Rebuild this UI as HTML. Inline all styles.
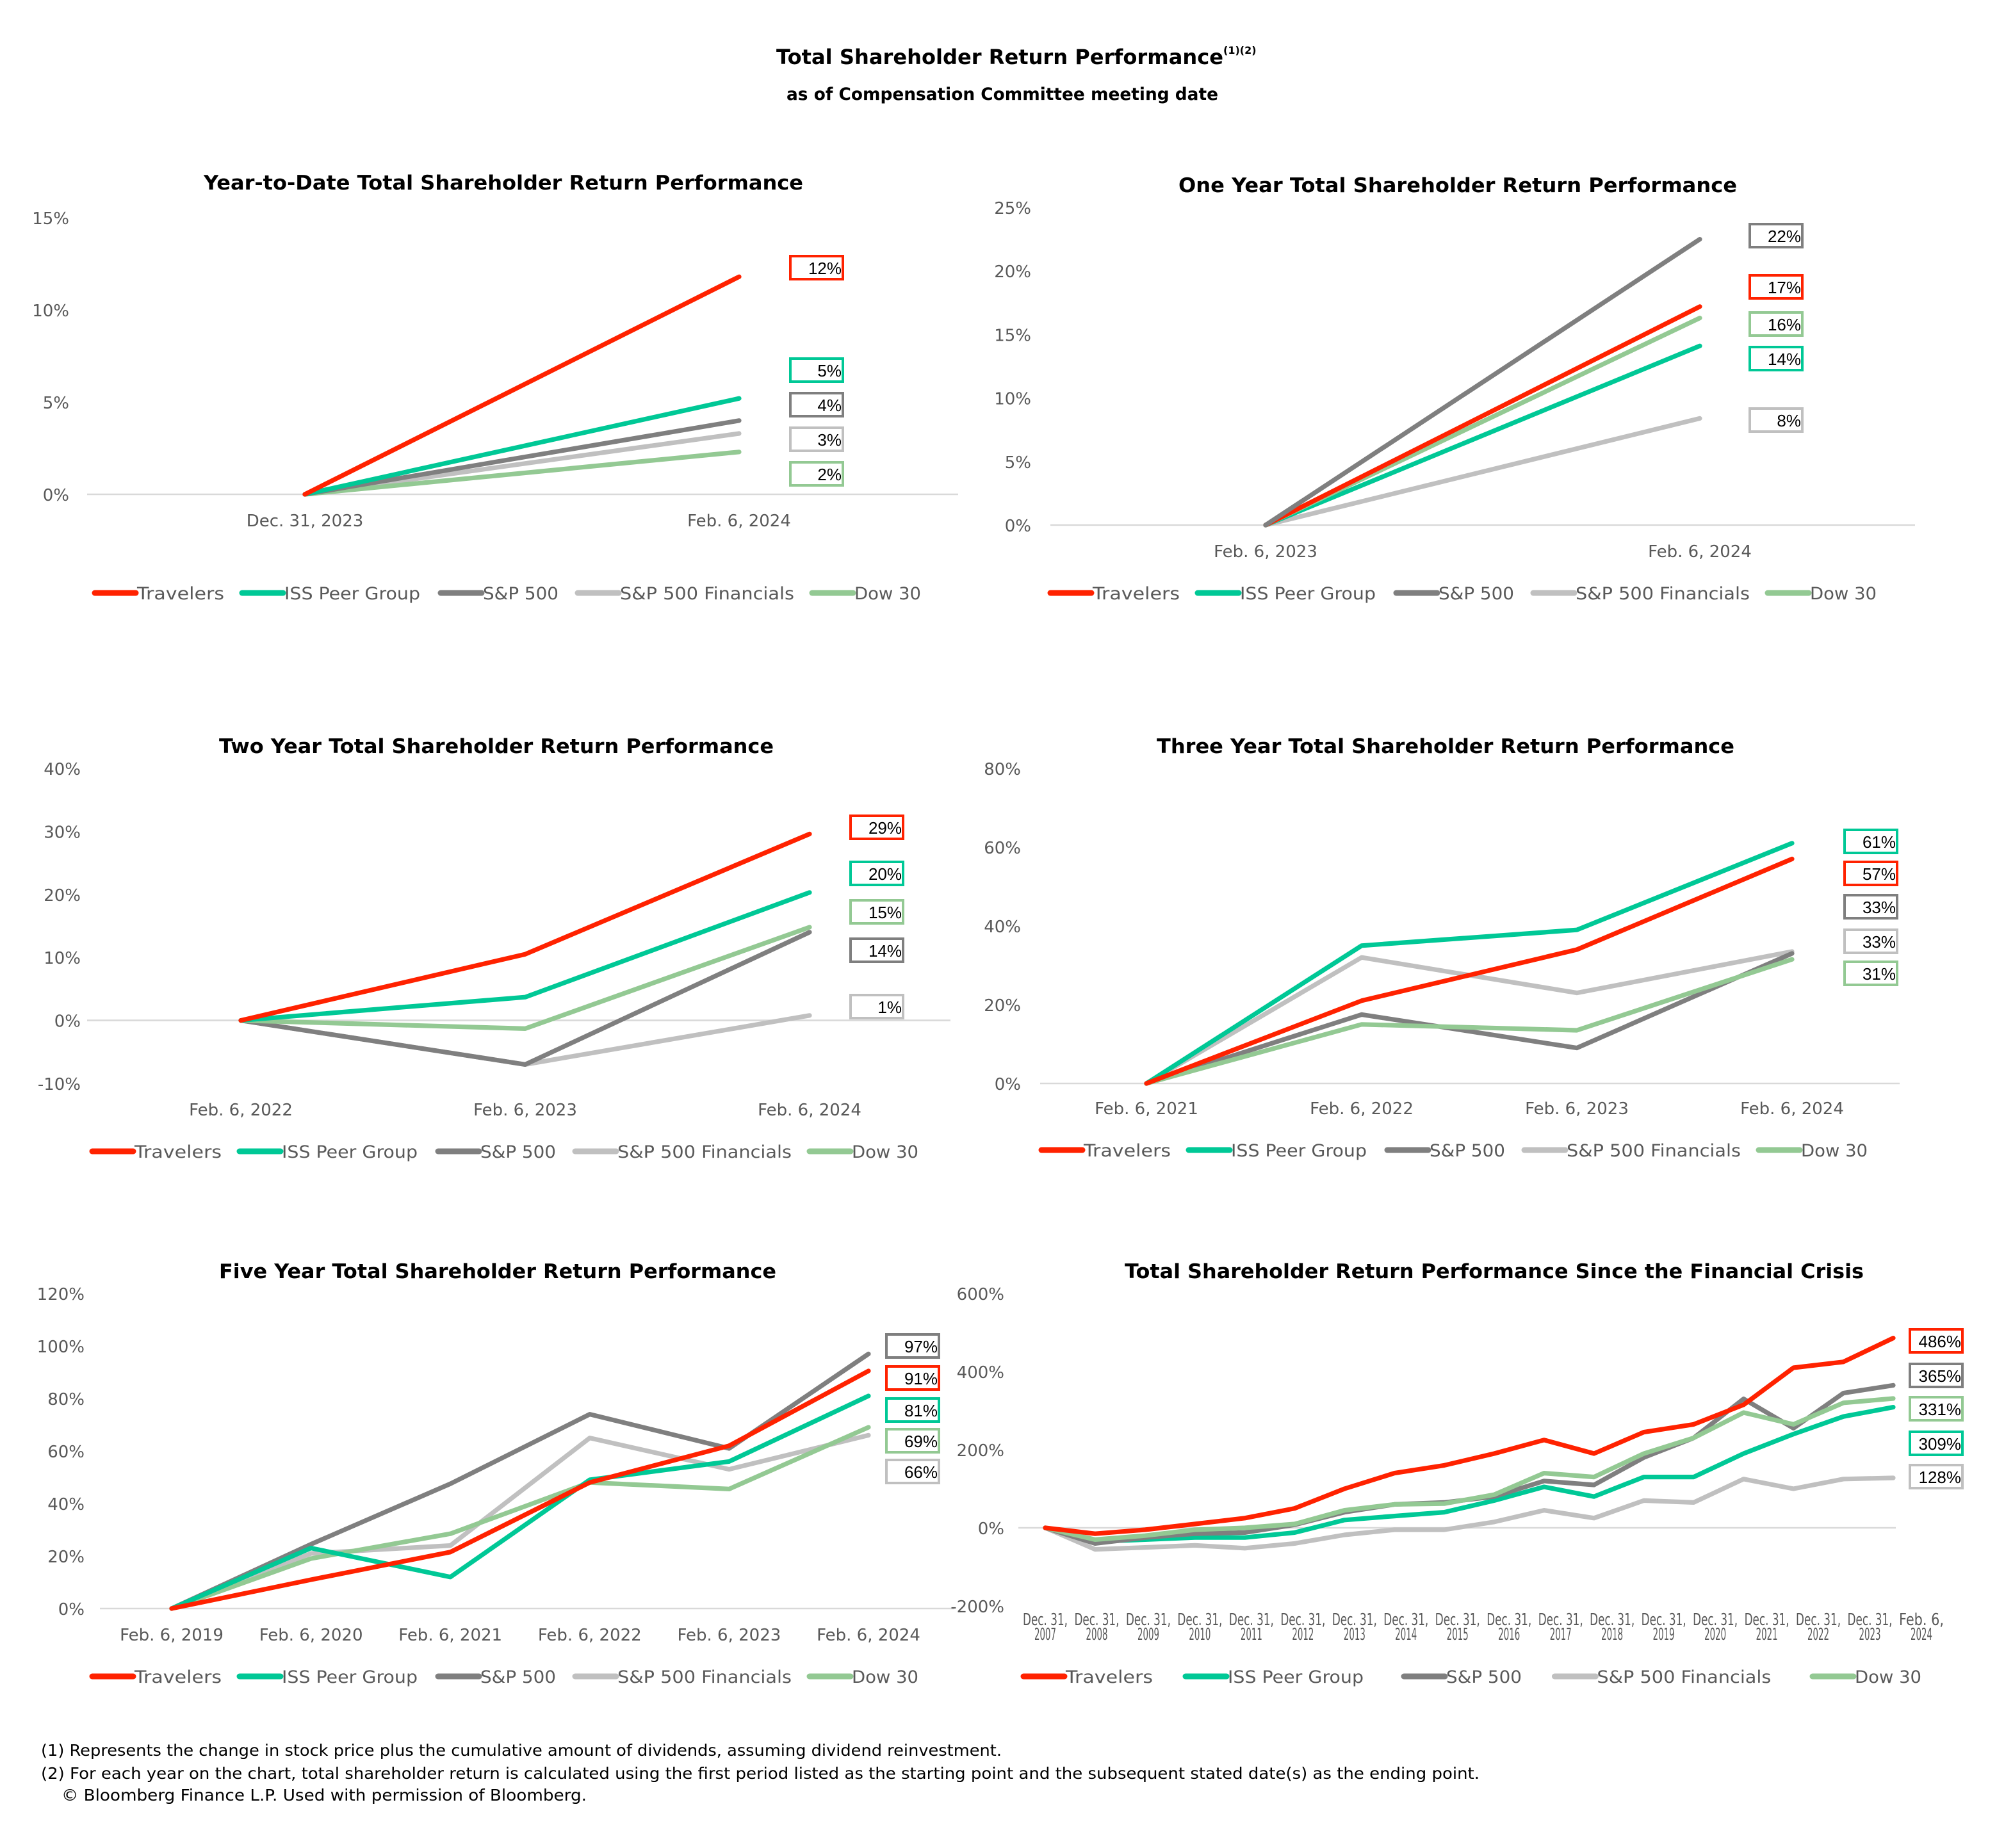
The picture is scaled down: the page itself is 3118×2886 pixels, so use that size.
<!DOCTYPE html>
<html><head><meta charset="utf-8">
<style>
html,body{margin:0;padding:0;background:#fff;}
svg{display:block;}
text{font-family:"DejaVu Sans","Liberation Sans",sans-serif;}
.t{font-family:"DejaVu Sans","Liberation Sans",sans-serif;font-weight:bold;fill:#000;}
.ax{fill:#595959;font-size:13px;}
.lg{fill:#595959;font-size:13.5px;}
.bx{fill:#000;font-size:13px;font-family:"Liberation Sans",sans-serif;}
.fn{font-family:"DejaVu Sans","Liberation Sans",sans-serif;font-size:12.5px;fill:#000;}
</style></head>
<body>
<svg id="root" width="3118" height="2886" viewBox="0 0 1559 1443" xmlns="http://www.w3.org/2000/svg">
<text class="t" x="606" y="50" font-size="16"><tspan textLength="349" lengthAdjust="spacingAndGlyphs">Total Shareholder Return Performance</tspan><tspan font-size="8" dy="-8">(1)(2)</tspan></text>
<text class="t" x="614" y="78" font-size="13.5" textLength="337" lengthAdjust="spacingAndGlyphs">as of Compensation Committee meeting date</text>
<g id="charts"></g>
<text class="fn" x="32" y="1371" textLength="750" lengthAdjust="spacingAndGlyphs">(1) Represents the change in stock price plus the cumulative amount of dividends, assuming dividend reinvestment.</text>
<text class="fn" x="32" y="1389" textLength="1123" lengthAdjust="spacingAndGlyphs">(2) For each year on the chart, total shareholder return is calculated using the first period listed as the starting point and the subsequent stated date(s) as the ending point.</text>
<text class="fn" x="48" y="1406" textLength="410" lengthAdjust="spacingAndGlyphs">© Bloomberg Finance L.P. Used with permission of Bloomberg.</text>
</svg>
<script>
// ---- shared data ----
const seriesNames = ["Travelers","ISS Peer Group","S&P 500","S&P 500 Financials","Dow 30"];
const seriesColors = ["#ff2200","#00c896","#7f7f7f","#c0c0c0","#93c993"];

// ---- Chart 1: YTD ----
const ytdCategories = ["Dec. 31, 2023","Feb. 6, 2024"];
const ytdTicks = [0,5,10,15];
const ytdTravelers = [0,11.8];
const ytdIss = [0,5.2];
const ytdSp500 = [0,4.0];
const ytdFin = [0,3.3];
const ytdDow = [0,2.3];
const ytdLabels = ["12%","5%","4%","3%","2%"];

// ---- Chart 2: One year ----
const oneCategories = ["Feb. 6, 2023","Feb. 6, 2024"];
const oneTicks = [0,5,10,15,20,25];
const oneTravelers = [0,17.2];
const oneIss = [0,14.1];
const oneSp500 = [0,22.5];
const oneFin = [0,8.4];
const oneDow = [0,16.3];
const oneLabels = ["17%","14%","22%","8%","16%"];

// ---- Chart 3: Two year ----
const twoCategories = ["Feb. 6, 2022","Feb. 6, 2023","Feb. 6, 2024"];
const twoTicks = [-10,0,10,20,30,40];
const twoTravelers = [0,10.5,29.6];
const twoIss = [0,3.7,20.3];
const twoSp500 = [0,-7,14];
const twoFin = [0,-7,0.8];
const twoDow = [0,-1.3,14.8];
const twoLabels = ["29%","20%","14%","1%","15%"];

// ---- Chart 4: Three year ----
const threeCategories = ["Feb. 6, 2021","Feb. 6, 2022","Feb. 6, 2023","Feb. 6, 2024"];
const threeTicks = [0,20,40,60,80];
const threeTravelers = [0,21,34,57];
const threeIss = [0,35,39,61];
const threeSp500 = [0,17.5,9,33];
const threeFin = [0,32,23,33.5];
const threeDow = [0,15,13.5,31.5];
const threeLabels = ["57%","61%","33%","33%","31%"];

// ---- Chart 5: Five year ----
const fiveCategories = ["Feb. 6, 2019","Feb. 6, 2020","Feb. 6, 2021","Feb. 6, 2022","Feb. 6, 2023","Feb. 6, 2024"];
const fiveTicks = [0,20,40,60,80,100,120];
const fiveTravelers = [0,11,21.5,48,62,90.5];
const fiveIss = [0,23,12,49,56,81];
const fiveSp500 = [0,24.5,47.5,74,61,97];
const fiveFin = [0,21,24,65,53,66];
const fiveDow = [0,19,28.5,48,45.5,69];
const fiveLabels = ["91%","81%","97%","66%","69%"];

// ---- Chart 6: Since financial crisis ----
const crisisCategories = ["Dec. 31,|2007","Dec. 31,|2008","Dec. 31,|2009","Dec. 31,|2010","Dec. 31,|2011","Dec. 31,|2012","Dec. 31,|2013","Dec. 31,|2014","Dec. 31,|2015","Dec. 31,|2016","Dec. 31,|2017","Dec. 31,|2018","Dec. 31,|2019","Dec. 31,|2020","Dec. 31,|2021","Dec. 31,|2022","Dec. 31,|2023","Feb. 6,|2024"];
const crisisTicks = [-200,0,200,400,600];
const crisisTravelers = [0,-15,-5,10,25,50,100,140,160,190,225,190,245,265,315,410,425,486];
const crisisIss = [0,-35,-30,-25,-25,-12,20,30,40,70,105,80,130,130,190,240,285,309];
const crisisSp500 = [0,-40,-25,-15,-12,8,40,60,65,80,120,110,180,230,330,255,345,365];
const crisisFin = [0,-55,-50,-45,-52,-40,-18,-5,-5,15,45,25,70,65,125,100,125,128];
const crisisDow = [0,-30,-20,-5,0,10,45,60,62,85,140,130,190,230,295,265,320,331];
const crisisLabels = ["486%","309%","365%","128%","331%"];

const NS="http://www.w3.org/2000/svg";
const root=document.getElementById('charts');
function mk(tag,attrs,parent){const e=document.createElementNS(NS,tag);for(const k in attrs)e.setAttribute(k,attrs[k]);(parent||root).appendChild(e);return e;}

function chart(cfg){
  const g=mk('g',{});
  
  
  const t=mk('text',{class:'t',x:cfg.titleX,y:cfg.titleY,'font-size':15.5,textLength:cfg.titleW,lengthAdjust:'spacingAndGlyphs'},g);
  t.textContent=cfg.title;
  
  
  const tmin=cfg.ticks[0],tmax=cfg.ticks[cfg.ticks.length-1];
  const yS=v=>cfg.y0+(v-tmin)/(tmax-tmin)*(cfg.y1-cfg.y0);
  const xS=i=>cfg.xa+i*(cfg.xb-cfg.xa)/(cfg.cats.length-1);
  const xL=i=>cfg.la+i*(cfg.lb-cfg.la)/(cfg.cats.length-1);
  cfg.ticks.forEach(v=>{
    const tx=mk('text',{class:'ax',x:cfg.tickX,y:yS(v)+5,'text-anchor':'end'},g);
    tx.textContent=v+'%';
    
    
  });
  const ax=mk('line',{x1:cfg.axL,x2:cfg.axR,y1:yS(0),y2:yS(0),stroke:'#d9d9d9','stroke-width':1.3},g);
  
  
  cfg.cats.forEach((c,i)=>{
    const parts=c.split('|');
    parts.forEach((p,j)=>{
      const a={class:'ax',x:xL(i),y:cfg.catY+j*(cfg.catSize?cfg.catSize+3:0),'text-anchor':'middle'};
      if(cfg.catSize){a['font-size']=cfg.catSize;a.textLength=j?17:35;a.lengthAdjust='spacingAndGlyphs';}
      const tx=mk('text',a,g);
      tx.textContent=p;
      
      
    });
  });
  cfg.order.forEach(si=>{
    const d=cfg.series[si].map((v,i)=>(i?'L':'M')+xS(i).toFixed(1)+','+yS(v).toFixed(1)).join('');
    const p=mk('path',{d:d,fill:'none',stroke:seriesColors[si],'stroke-width':3.6,'stroke-linejoin':'round','stroke-linecap':'round'},g);
    
    
  });
  cfg.boxY.forEach((by,si)=>{
    const r=mk('rect',{x:cfg.boxX,y:by-9,width:41,height:18,fill:'#fff',stroke:seriesColors[si],'stroke-width':2},g);
    
    
    const tx=mk('text',{class:'bx',x:cfg.boxX+40,y:by+5,'text-anchor':'end'},g);
    tx.textContent=cfg.labels[si];
    
    
  });
  const offs=[0,115,270,377,560].map(o=>o*(cfg.lgScale||1));
  const tw=[68,106,59,136,52];
  seriesNames.forEach((n,si)=>{
    const lx=cfg.lgX+offs[si];
    const gl=mk('g',{},g);
    
    
    mk('line',{x1:lx+2,x2:lx+34,y1:cfg.lgY,y2:cfg.lgY,stroke:seriesColors[si],'stroke-width':4.5,'stroke-linecap':'round'},gl);
    const tx=mk('text',{class:'lg',x:lx+35,y:cfg.lgY+5,textLength:tw[si],lengthAdjust:'spacingAndGlyphs'},gl);
    tx.textContent=n;
  });
}

chart({name:'ytd-chart',title:'Year-to-Date Total Shareholder Return Performance',titleX:159,titleW:468,titleY:148,
  ticks:ytdTicks,y0:386,y1:170,tickX:54,axL:68,axR:748,cats:ytdCategories,xa:238,xb:577,la:238,lb:577,catY:411,
  series:[ytdTravelers,ytdIss,ytdSp500,ytdFin,ytdDow],order:[3,4,2,1,0],labels:ytdLabels,
  boxX:617,boxY:[209,289,316,343,370],lgX:72,lgY:463});
chart({name:'one-year-chart',title:'One Year Total Shareholder Return Performance',titleX:920,titleW:436,titleY:150,
  ticks:oneTicks,y0:410,y1:162,tickX:805,axL:820,axR:1495,cats:oneCategories,xa:988,xb:1327,la:988,lb:1327,catY:435,
  series:[oneTravelers,oneIss,oneSp500,oneFin,oneDow],order:[3,1,4,0,2],labels:oneLabels,
  boxX:1366,boxY:[224,280,184,328,253],lgX:818,lgY:463});
chart({name:'two-year-chart',title:'Two Year Total Shareholder Return Performance',titleX:171,titleW:433,titleY:588,
  ticks:twoTicks,y0:846,y1:600,tickX:63,axL:68,axR:742,cats:twoCategories,xa:188,xb:632,la:188,lb:632,catY:871,
  series:[twoTravelers,twoIss,twoSp500,twoFin,twoDow],order:[3,2,4,1,0],labels:twoLabels,
  boxX:664,boxY:[646,682,742,786,712],lgX:70,lgY:899});
chart({name:'three-year-chart',title:'Three Year Total Shareholder Return Performance',titleX:903,titleW:451,titleY:588,
  ticks:threeTicks,y0:846,y1:600,tickX:797,axL:812,axR:1483,cats:threeCategories,xa:895,xb:1399,la:895,lb:1399,catY:870,
  series:[threeTravelers,threeIss,threeSp500,threeFin,threeDow],order:[3,2,4,1,0],labels:threeLabels,
  boxX:1440,boxY:[682,657,708,735,760],lgX:811,lgY:898});
chart({name:'five-year-chart',title:'Five Year Total Shareholder Return Performance',titleX:171,titleW:435,titleY:998,
  ticks:fiveTicks,y0:1256,y1:1010,tickX:66,axL:78,axR:745,cats:fiveCategories,xa:134,xb:678,la:134,lb:678,catY:1281,
  series:[fiveTravelers,fiveIss,fiveSp500,fiveFin,fiveDow],order:[3,2,4,1,0],labels:fiveLabels,
  boxX:692,boxY:[1076,1101,1051,1149,1125],lgX:70,lgY:1309});
chart({name:'crisis-chart',title:'Total Shareholder Return Performance Since the Financial Crisis',titleX:878,titleW:577,titleY:998,
  ticks:crisisTicks,y0:1254,y1:1010,tickX:784,axL:795,axR:1480,cats:crisisCategories,xa:816,xb:1478,la:816,lb:1500,catY:1269,catSize:8.5,
  series:[crisisTravelers,crisisIss,crisisSp500,crisisFin,crisisDow],order:[3,1,2,4,0],labels:crisisLabels,
  boxX:1491,boxY:[1047,1127,1074,1153,1100],lgX:797,lgY:1309,lgScale:1.1});
</script>
</body></html>
